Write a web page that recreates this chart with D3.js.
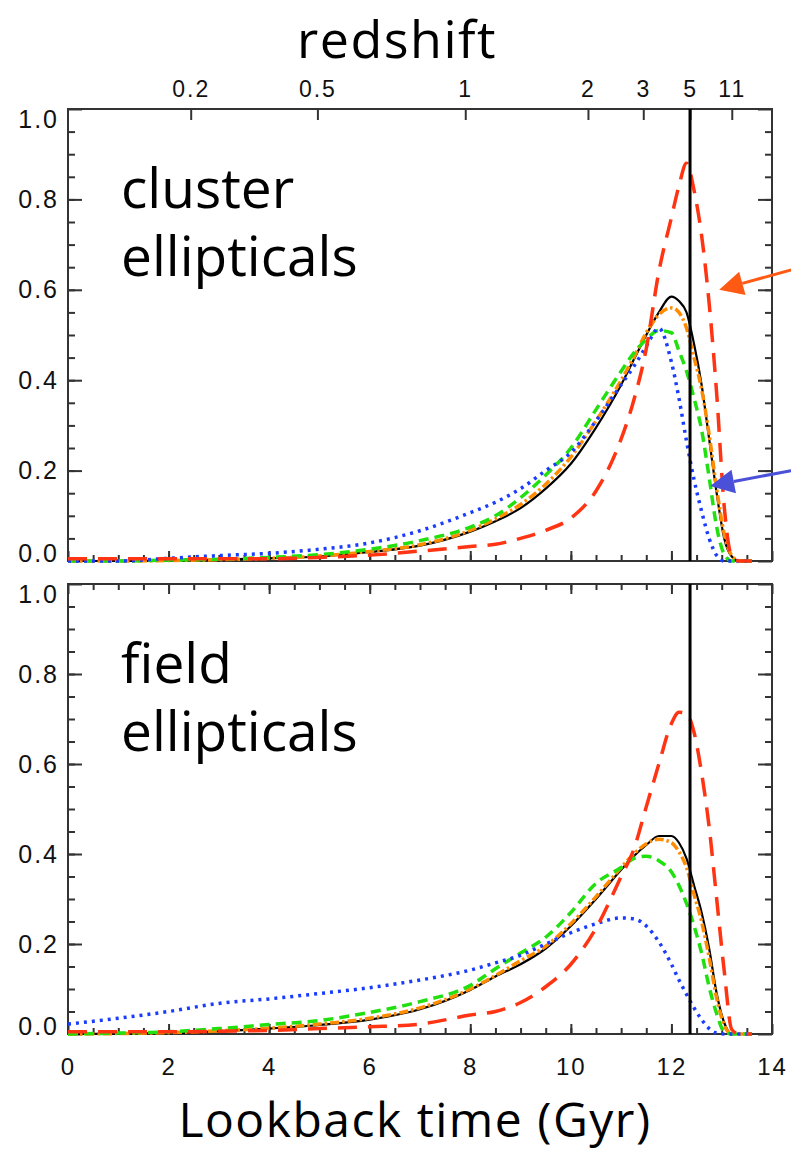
<!DOCTYPE html>
<html>
<head>
<meta charset="utf-8">
<script src="https://cdn.jsdelivr.net/npm/d3@7"></script>
<style>
    body { margin: 0; background: #fff; }
    .tick line { stroke: #333; stroke-width: 2; }
    .domain { display: none; }
    .big { font-family: "Open Sans", sans-serif; fill: #000; }
</style>
</head>
<body>
<div id="chart"></div>
<script>
// lookback time grid (Gyr) shared by every curve
var lookback = [0, 1, 2, 3, 4, 5, 6, 7, 8, 8.5, 9, 9.5, 10, 10.5, 11, 11.25, 11.5, 11.75, 12, 12.15, 12.3, 12.45, 12.6, 12.75, 12.9, 13.05, 13.2, 13.35, 13.6];

// upper panel: cluster ellipticals
var clusterBlack  = [0, 0, 0.001, 0.003, 0.006, 0.01, 0.02, 0.034, 0.065, 0.088, 0.117, 0.16, 0.215, 0.295, 0.39, 0.445, 0.50, 0.55, 0.585, 0.575, 0.55, 0.48, 0.39, 0.27, 0.15, 0.05, 0.01, 0, 0];
var clusterOrange = [0, 0, 0.001, 0.003, 0.006, 0.011, 0.021, 0.036, 0.068, 0.093, 0.125, 0.17, 0.23, 0.31, 0.40, 0.45, 0.505, 0.545, 0.56, 0.55, 0.515, 0.45, 0.38, 0.28, 0.16, 0.06, 0.012, 0, 0];
var clusterGreen  = [0, 0, 0.002, 0.004, 0.008, 0.014, 0.026, 0.045, 0.075, 0.10, 0.14, 0.19, 0.25, 0.335, 0.42, 0.46, 0.49, 0.51, 0.505, 0.465, 0.42, 0.36, 0.29, 0.185, 0.075, 0.015, 0, 0, 0];
var clusterBlue   = [0, 0, 0.006, 0.012, 0.017, 0.026, 0.04, 0.067, 0.107, 0.13, 0.16, 0.2, 0.24, 0.31, 0.39, 0.43, 0.475, 0.515, 0.44, 0.36, 0.265, 0.18, 0.11, 0.05, 0.012, 0, 0, 0, 0];
var clusterRed    = [0.005, 0.005, 0.005, 0.005, 0.005, 0.008, 0.013, 0.022, 0.032, 0.037, 0.05, 0.068, 0.095, 0.155, 0.27, 0.355, 0.47, 0.64, 0.76, 0.83, 0.88, 0.82, 0.72, 0.57, 0.37, 0.12, 0.01, 0, 0];

// lower panel: field ellipticals
var fieldBlack  = [0, 0.001, 0.002, 0.006, 0.012, 0.02, 0.032, 0.055, 0.098, 0.128, 0.155, 0.19, 0.24, 0.30, 0.365, 0.395, 0.42, 0.44, 0.44, 0.425, 0.39, 0.33, 0.27, 0.19, 0.09, 0.025, 0, 0, 0];
var fieldOrange = [0, 0.001, 0.003, 0.007, 0.013, 0.022, 0.035, 0.058, 0.10, 0.13, 0.163, 0.195, 0.245, 0.305, 0.37, 0.40, 0.423, 0.433, 0.425, 0.405, 0.37, 0.31, 0.25, 0.17, 0.08, 0.02, 0, 0, 0];
var fieldGreen  = [0, 0.002, 0.005, 0.012, 0.021, 0.03, 0.048, 0.072, 0.108, 0.145, 0.18, 0.215, 0.27, 0.335, 0.37, 0.39, 0.395, 0.385, 0.36, 0.33, 0.29, 0.24, 0.18, 0.105, 0.045, 0.005, 0, 0, 0];
var fieldBlue   = [0.022, 0.035, 0.05, 0.068, 0.078, 0.09, 0.103, 0.12, 0.142, 0.158, 0.175, 0.2, 0.225, 0.245, 0.258, 0.256, 0.24, 0.205, 0.155, 0.12, 0.088, 0.058, 0.032, 0.012, 0.002, 0, 0, 0, 0];
var fieldRed    = [0.005, 0.005, 0.005, 0.006, 0.008, 0.012, 0.016, 0.022, 0.042, 0.05, 0.07, 0.105, 0.155, 0.235, 0.35, 0.41, 0.505, 0.60, 0.69, 0.715, 0.712, 0.67, 0.58, 0.46, 0.30, 0.14, 0.01, 0, 0];

// axis ticks
var xTicks = [0, 2, 4, 6, 8, 10, 12, 14];
var yTicks = [0, 0.2, 0.4, 0.6, 0.8, 1.0];
var redshiftLabels   = ['0.2', '0.5', '1', '2', '3', '5', '11'];
var redshiftLookback = [2.44, 4.96, 7.90, 10.34, 11.44, 12.37, 13.20];
var zFiveLookback = 12.37;   // the vertical line at z = 5

// line styles, in drawing order
var styles = {
    black:  { color: '#000000', dash: null,          width: 2.2 },
    orange: { color: '#ff8c00', dash: '9,3,2.5,3',   width: 3.5 },
    green:  { color: '#22e010', dash: '10,6',        width: 3.5 },
    blue:   { color: '#1a3cff', dash: '3,5',         width: 3.5 },
    red:    { color: '#ff3412', dash: '19,11',       width: 3.5 }
};

var tickFont = '"Liberation Sans", Arial, sans-serif';

var svgWidth = 791, svgHeight = 1154;
var plotLeft = 68, plotRight = 772;

var svg = d3.select('#chart')
            .append('svg')
            .attr('width', svgWidth)
            .attr('height', svgHeight);

var xScale = d3.scaleLinear()
               .domain([0, 14])
               .range([plotLeft, plotRight]);

// big light tick labels like the IDL original
function styleTicks(sel, size) {
    sel.selectAll('text')
       .style('font-family', tickFont)
       .style('font-size', size + 'px')
       .style('letter-spacing', '2px')
       .style('fill', '#111');
}

function drawPanel(top, bottom, series, label, isUpper) {
    var yScale = d3.scaleLinear()
                   .domain([0, 1])
                   .range([bottom, top]);
    var g = svg.append('g');

    // y axis, left with labels, right mirrored
    var left = g.append('g')
                .attr('transform', `translate(${plotLeft}, 0)`)
                .call(d3.axisLeft(yScale).tickValues(yTicks).tickSizeInner(-14).tickSizeOuter(0)
                        .tickPadding(9).tickFormat(d3.format('.1f')));
    styleTicks(left, 25);
    // end labels sit inside the frame, like the original
    left.selectAll('text')
        .attr('dy', d => d === 1 ? '0.74em' : (d === 0 ? '0em' : '0.32em'));
    g.append('g')
     .attr('transform', `translate(${plotLeft}, 0)`)
     .call(d3.axisLeft(yScale).tickValues(d3.range(0.05, 1, 0.05)).tickSize(-7).tickFormat(''));
    g.append('g')
     .attr('transform', `translate(${plotRight}, 0)`)
     .call(d3.axisRight(yScale).tickValues(yTicks).tickSize(-14).tickFormat(''));
    g.append('g')
     .attr('transform', `translate(${plotRight}, 0)`)
     .call(d3.axisRight(yScale).tickValues(d3.range(0.05, 1, 0.05)).tickSize(-7).tickFormat(''));

    // x ticks on the bottom
    var bottomAxis = g.append('g')
                      .attr('transform', `translate(0, ${bottom})`)
                      .call(d3.axisBottom(xScale).tickValues(xTicks).tickSizeInner(-10).tickSizeOuter(0)
                              .tickPadding(24).tickFormat(isUpper ? '' : d3.format('d')));
    styleTicks(bottomAxis, 24);
    g.append('g')
     .attr('transform', `translate(0, ${bottom})`)
     .call(d3.axisBottom(xScale).tickValues(d3.range(0.5, 14, 0.5)).tickSize(-6).tickFormat(''));

    if (isUpper) {
        // redshift scale along the top
        var zAxis = g.append('g')
                     .attr('transform', `translate(0, ${top})`)
                     .call(d3.axisTop(xScale).tickValues(redshiftLookback).tickSizeInner(-11).tickSizeOuter(0)
                             .tickPadding(12).tickFormat((d, i) => redshiftLabels[i]));
        styleTicks(zAxis, 23);
    } else {
        g.append('g')
         .attr('transform', `translate(0, ${top})`)
         .call(d3.axisTop(xScale).tickValues(xTicks).tickSize(-10).tickFormat(''));
        g.append('g')
         .attr('transform', `translate(0, ${top})`)
         .call(d3.axisTop(xScale).tickValues(d3.range(0.5, 14, 0.5)).tickSize(-6).tickFormat(''));
    }

    // frame
    g.append('rect')
     .attr('x', plotLeft)
     .attr('y', top)
     .attr('width', plotRight - plotLeft)
     .attr('height', bottom - top)
     .attr('fill', 'none')
     .attr('stroke', '#333')
     .attr('stroke-width', 2);

    var line = d3.line()
                 .x((d, i) => xScale(lookback[i]))
                 .y(d => yScale(d))
                 .curve(d3.curveMonotoneX);

    series.forEach(s => {
        var st = styles[s.style];
        g.append('path')
         .datum(s.values)
         .attr('d', line)
         .attr('fill', 'none')
         .attr('stroke', st.color)
         .attr('stroke-width', st.width)
         .attr('stroke-dasharray', st.dash)
         .attr('stroke-linejoin', 'round');
    });

    // z = 5 marker
    g.append('line')
     .attr('x1', xScale(zFiveLookback))
     .attr('x2', xScale(zFiveLookback))
     .attr('y1', top)
     .attr('y2', bottom)
     .attr('stroke', '#000')
     .attr('stroke-width', 3);

    // panel label, two lines
    g.append('text')
     .attr('class', 'big')
     .attr('x', 121)
     .attr('y', top + 99)
     .attr('font-size', 55)
     .text(label[0]);
    g.append('text')
     .attr('class', 'big')
     .attr('x', 121)
     .attr('y', top + 167)
     .attr('font-size', 55)
     .text(label[1]);

    return yScale;
}

var yUpper = drawPanel(109, 561, [
    { values: clusterBlack,  style: 'black' },
    { values: clusterOrange, style: 'orange' },
    { values: clusterGreen,  style: 'green' },
    { values: clusterBlue,   style: 'blue' },
    { values: clusterRed,    style: 'red' }
], ['cluster', 'ellipticals'], true);

drawPanel(584, 1034, [
    { values: fieldBlack,  style: 'black' },
    { values: fieldOrange, style: 'orange' },
    { values: fieldGreen,  style: 'green' },
    { values: fieldBlue,   style: 'blue' },
    { values: fieldRed,    style: 'red' }
], ['field', 'ellipticals'], false);

// pointer arrows on the right edge of the upper panel (data coords)
var arrows = [
    { from: [14.38, 0.644], to: [12.95, 0.60], color: '#ff5a14' },
    { from: [14.38, 0.20],  to: [12.77, 0.166], color: '#4a50d8' }
];
arrows.forEach(a => {
    var x1 = xScale(a.from[0]), y1 = yUpper(a.from[1]);
    var x2 = xScale(a.to[0]),   y2 = yUpper(a.to[1]);
    var ang = Math.atan2(y2 - y1, x2 - x1);
    var headLen = 24, headHalf = 12;
    var bx = x2 - headLen * Math.cos(ang), by = y2 - headLen * Math.sin(ang);
    svg.append('line')
       .attr('x1', x1).attr('y1', y1)
       .attr('x2', bx).attr('y2', by)
       .attr('stroke', a.color)
       .attr('stroke-width', 3);
    svg.append('path')
       .attr('d', `M${x2},${y2} L${bx + headHalf * Math.sin(ang)},${by - headHalf * Math.cos(ang)} L${bx - headHalf * Math.sin(ang)},${by + headHalf * Math.cos(ang)} Z`)
       .attr('fill', a.color);
});

// titles
svg.append('text')
   .attr('class', 'big')
   .attr('x', 397)
   .attr('y', 58)
   .attr('text-anchor', 'middle')
   .attr('font-size', 52)
   .attr('letter-spacing', 1.5)
   .text('redshift');

svg.append('text')
   .attr('class', 'big')
   .attr('x', 415)
   .attr('y', 1137)
   .attr('text-anchor', 'middle')
   .attr('font-size', 48)
   .attr('letter-spacing', 1.5)
   .text('Lookback time (Gyr)');
</script>
</body>
</html>
